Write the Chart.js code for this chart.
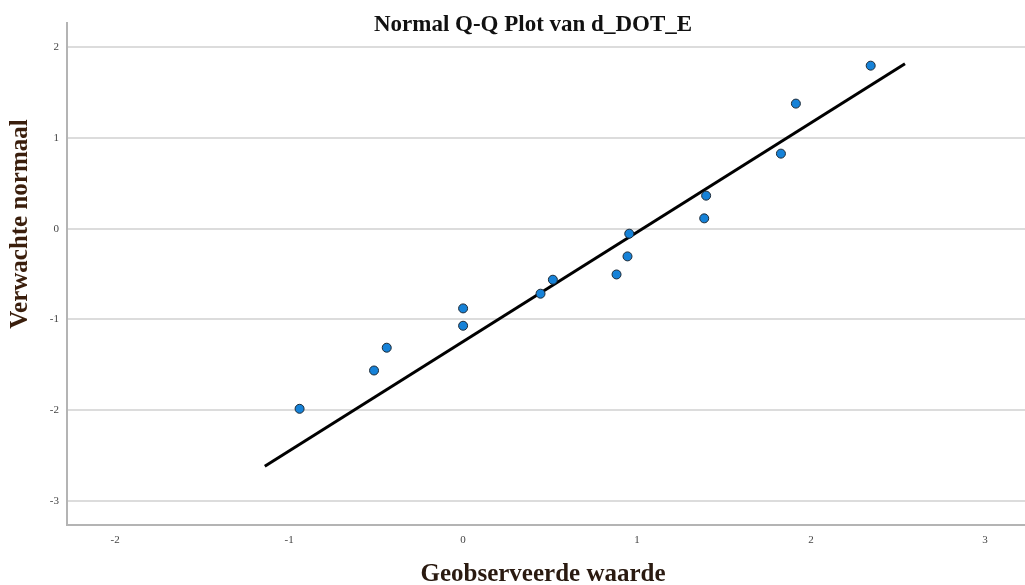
<!DOCTYPE html>
<html>
<head>
<meta charset="utf-8">
<style>
  html, body { margin: 0; padding: 0; background: #ffffff; }
  #wrap { width: 1025px; height: 585px; position: relative; }
</style>
<script src="https://cdn.jsdelivr.net/npm/chart.js@4.4.1/dist/chart.umd.min.js"></script>
</head>
<body>
<div id="wrap"><canvas id="qq" width="1025" height="585"></canvas></div>
<script>
// Observed values (x) and expected normal quantiles (y)
const observed = [-0.94, -0.512, -0.439, 0.0, 0.0, 0.445, 0.516, 0.882, 0.945, 0.955, 1.386, 1.397, 1.827, 1.913, 2.343];
const expectedNormal = [-1.984, -1.562, -1.311, -0.878, -1.069, -0.716, -0.562, -0.504, -0.305, -0.055, 0.114, 0.364, 0.827, 1.378, 1.796];

// Reference line end points
const lineX = [-1.14, 2.54];
const lineY = [-2.616, 1.818];

// Axis ticks
const xTicks = [-2, -1, 0, 1, 2, 3];
const yTicks = [-3, -2, -1, 0, 1, 2];

const titleText = 'Normal Q-Q Plot van d_DOT_E';
const xTitle = 'Geobserveerde waarde';
const yTitle = 'Verwachte normaal';

const serif = '"Liberation Serif", "Times New Roman", serif';

const pointData = observed.map((x, i) => ({ x: x, y: expectedNormal[i] }));
const lineData = lineX.map((x, i) => ({ x: x, y: lineY[i] }));

// Chart title and axis titles, placed by hand
const titlesPlugin = {
  id: 'plotTitles',
  afterDraw(chart) {
    const ctx = chart.ctx;
    ctx.save();
    ctx.textAlign = 'center';
    ctx.textBaseline = 'alphabetic';

    ctx.fillStyle = '#111111';
    ctx.font = 'bold 23px ' + serif;
    ctx.fillText(titleText, 533, 31);

    ctx.fillStyle = '#2a1a10';
    ctx.font = 'bold 25px ' + serif;
    ctx.fillText(xTitle, 543, 581);

    ctx.fillStyle = '#3a1e0c';
    ctx.translate(27, 224);
    ctx.rotate(-Math.PI / 2);
    ctx.fillText(yTitle, 0, 0);
    ctx.restore();
  }
};

new Chart(document.getElementById('qq'), {
  type: 'scatter',
  data: {
    datasets: [
      {
        label: 'observed',
        data: pointData,
        order: 0,
        pointRadius: 4.5,
        pointHoverRadius: 4.5,
        pointBackgroundColor: '#1682d8',
        pointBorderColor: '#1d2a36',
        pointBorderWidth: 1,
        showLine: false
      },
      {
        label: 'reference',
        data: lineData,
        order: 1,
        showLine: true,
        borderColor: '#000000',
        borderWidth: 3,
        pointRadius: 0,
        pointHoverRadius: 0,
        fill: false
      }
    ]
  },
  options: {
    responsive: false,
    animation: false,
    layout: { autoPadding: false, padding: { top: 23, right: 0, bottom: 0, left: 0 } },
    plugins: {
      legend: { display: false },
      tooltip: { enabled: false },
      title: { display: false }
    },
    scales: {
      x: {
        type: 'linear',
        min: -2.277,
        max: 3.23,
        afterBuildTicks(scale) { scale.ticks = xTicks.map(v => ({ value: v })); },
        afterFit(scale) { scale.height = 60; },
        grid: { display: false, drawTicks: false },
        border: { display: true, color: '#b4b4b4', width: 2 },
        ticks: {
          padding: 9,
          color: '#444444',
          font: { family: serif, size: 11 },
          maxRotation: 0
        },
        title: { display: false }
      },
      y: {
        type: 'linear',
        min: -3.264,
        max: 2.266,
        afterBuildTicks(scale) { scale.ticks = yTicks.map(v => ({ value: v })); },
        afterFit(scale) { scale.width = 67; },
        grid: { display: true, drawTicks: false, color: '#dcdcdc', lineWidth: 2 },
        border: { display: true, color: '#b4b4b4', width: 2 },
        ticks: {
          padding: 8,
          color: '#444444',
          font: { family: serif, size: 11 }
        },
        title: { display: false }
      }
    }
  },
  plugins: [titlesPlugin]
});
</script>
</body>
</html>
